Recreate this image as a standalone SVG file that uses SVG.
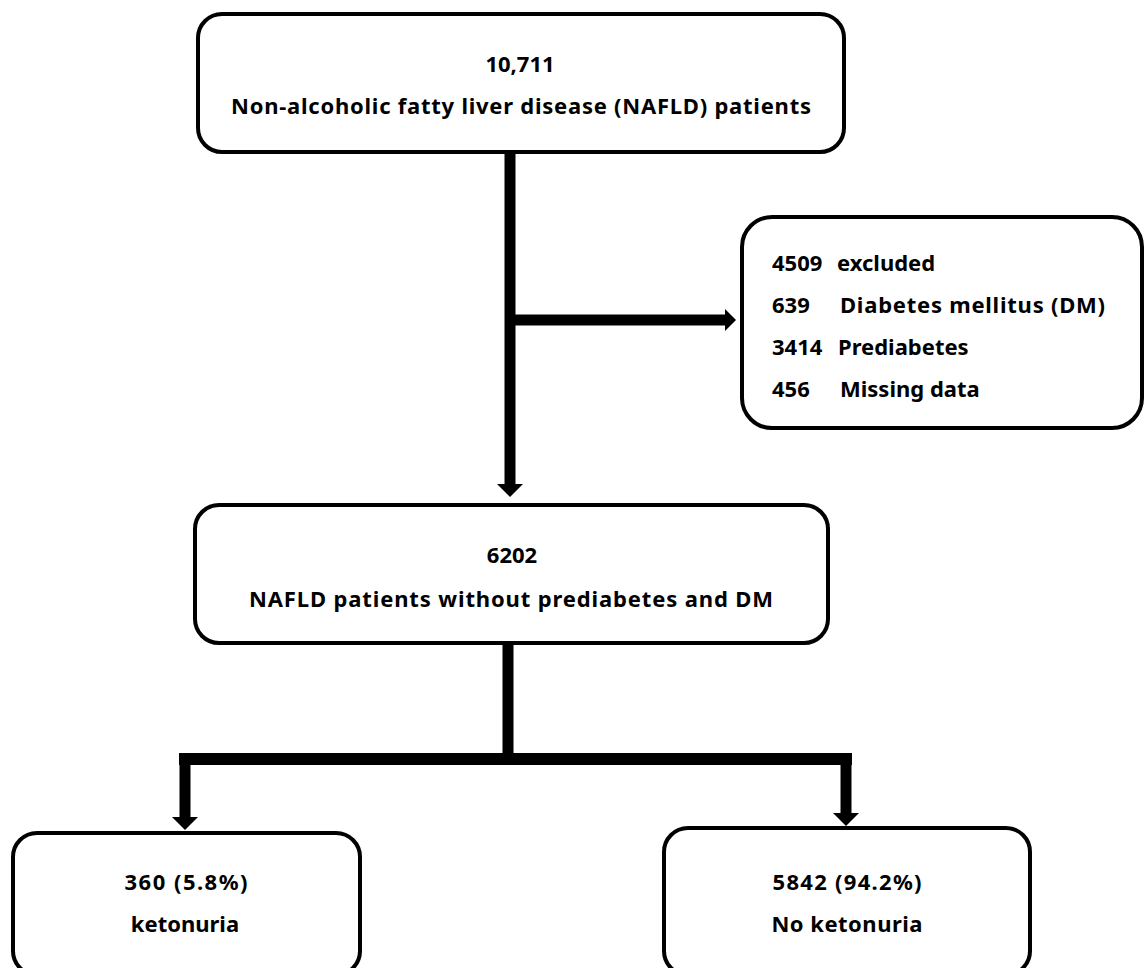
<svg xmlns="http://www.w3.org/2000/svg" width="1144" height="968" viewBox="0 0 1144 968">
<style>
.box{fill:#fff;stroke:#000;stroke-width:4}
.t{font-family:"Noto Sans","Liberation Sans",sans-serif;font-weight:bold;font-size:22px;fill:#000}
.c{text-anchor:middle}
.ln{fill:none;stroke:#000;stroke-width:11}
</style>
<defs>
<marker id="ah" markerUnits="userSpaceOnUse" markerWidth="14" markerHeight="26" refX="0" refY="13" orient="auto">
<path d="M0,0 L13,13 L0,26 z" fill="#000"/>
</marker>
<marker id="ahs" markerUnits="userSpaceOnUse" markerWidth="12" markerHeight="22" refX="0" refY="11" orient="auto">
<path d="M0,0 L11,11 L0,22 z" fill="#000"/>
</marker>
</defs>
<rect width="1144" height="968" fill="#fff"/>
<g id="connectors">
<path class="ln" d="M510,152 V484" marker-end="url(#ah)"/>
<path class="ln" d="M510,320 H725" marker-end="url(#ahs)"/>
<path class="ln" d="M508,643 V759"/>
<path class="ln" d="M179,759 H852" style="stroke-width:12"/>
<path class="ln" d="M185,753 V817" marker-end="url(#ah)"/>
<path class="ln" d="M846,753 V813" marker-end="url(#ah)"/>
</g>
<g id="n1">
<rect class="box" x="198" y="14" width="646" height="138" rx="24"/>
<text class="t c" x="520" y="72">10,711</text>
<text class="t c" x="521" y="114" textLength="580" lengthAdjust="spacing">Non-alcoholic fatty liver disease (NAFLD) patients</text>
</g>
<g id="n2">
<rect class="box" x="742" y="217" width="400" height="211" rx="30"/>
<text class="t" x="772" y="271">4509<tspan x="837">excluded</tspan></text>
<text class="t" x="772" y="313">639<tspan x="840" textLength="265" lengthAdjust="spacing">Diabetes mellitus (DM)</tspan></text>
<text class="t" x="772" y="355">3414<tspan x="838">Prediabetes</tspan></text>
<text class="t" x="772" y="397">456<tspan x="840">Missing data</tspan></text>
</g>
<g id="n3">
<rect class="box" x="195" y="505" width="633" height="138" rx="24"/>
<text class="t c" x="512" y="563">6202</text>
<text class="t c" x="511" y="607" textLength="524" lengthAdjust="spacing">NAFLD patients without prediabetes and DM</text>
</g>
<g id="n4">
<rect class="box" x="13" y="833" width="347" height="142" rx="24"/>
<text class="t c" x="186" y="890" textLength="123" lengthAdjust="spacing">360 (5.8%)</text>
<text class="t c" x="185" y="932">ketonuria</text>
</g>
<g id="n5">
<rect class="box" x="664" y="828" width="366" height="147" rx="24"/>
<text class="t c" x="847" y="890" textLength="149" lengthAdjust="spacing">5842 (94.2%)</text>
<text class="t c" x="847" y="932" textLength="151" lengthAdjust="spacing">No ketonuria</text>
</g>
</svg>
